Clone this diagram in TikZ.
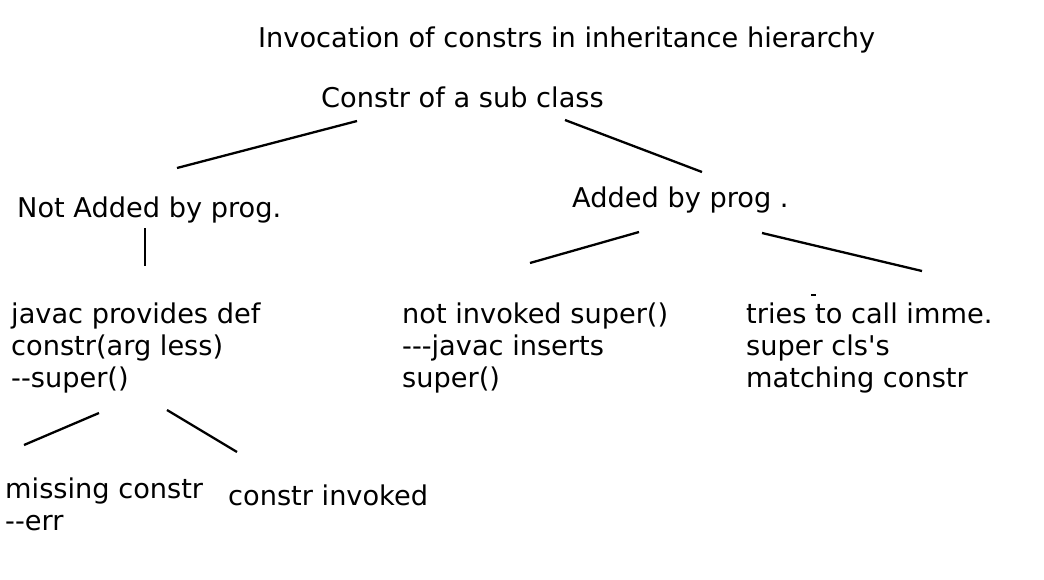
\documentclass[tikz,border=0pt]{standalone}
\usepackage{fontspec}
\newfontfamily\plainsans{DejaVu Sans}
\tikzset{
  txt/.style={anchor=base west, inner sep=0pt, font=\plainsans\fontsize{27.2}{32}\selectfont},
  edge/.style={line width=2.3pt, black},
}
\newcommand{\blk}[1]{\vtop{\baselineskip=32pt\lineskiplimit=-50pt #1}}
\begin{document}
\begin{tikzpicture}[x=1pt,y=-1pt]
\useasboundingbox[fill=white] (0,0) rectangle (1044,579);
\node[txt] (title) at (258,47) {Invocation of constrs in inheritance hierarchy};
\node[txt] (root) at (321,107) {Constr of a sub class};
\node[txt] (notadded) at (17,217) {Not Added by prog.};
\node[txt] (added) at (572,207) {Added by prog .};
\node[txt] (javac) at (11,323) {\blk{\hbox{javac provides def}\hbox{constr(arg less)}\hbox{--super()}}};
\node[txt] (notinv) at (402,323) {\blk{\hbox{not invoked super()}\hbox{---javac inserts}\hbox{super()}}};
\node[txt] (tries) at (746,323) {\blk{\hbox{tries to call imme.}\hbox{super cls's}\hbox{matching constr}}};
\node[txt] (missing) at (5,498) {\blk{\hbox{missing constr}\hbox{--err}}};
\node[txt] (invoked) at (228,505) {constr invoked};
% connector end points
\coordinate (r1) at (357,121); \coordinate (n1) at (177,168);
\coordinate (r2) at (565,120); \coordinate (a1) at (702,172);
\coordinate (n2) at (145,228); \coordinate (j1) at (145,266);
\coordinate (a2) at (639,232); \coordinate (v1) at (530,263);
\coordinate (a3) at (762,233); \coordinate (t1) at (922,271);
\coordinate (j2) at (99,413);  \coordinate (m1) at (24,445);
\coordinate (j3) at (167,410); \coordinate (i1) at (237,452);
\draw[edge] (r1) -- (n1);
\draw[edge] (r2) -- (a1);
\draw[edge] (n2) -- (j1);
\draw[edge] (a2) -- (v1);
\draw[edge] (a3) -- (t1);
\draw[edge] (j2) -- (m1);
\draw[edge] (j3) -- (i1);
\draw[edge] (811,295) -- (816,295);
\end{tikzpicture}
\end{document}
